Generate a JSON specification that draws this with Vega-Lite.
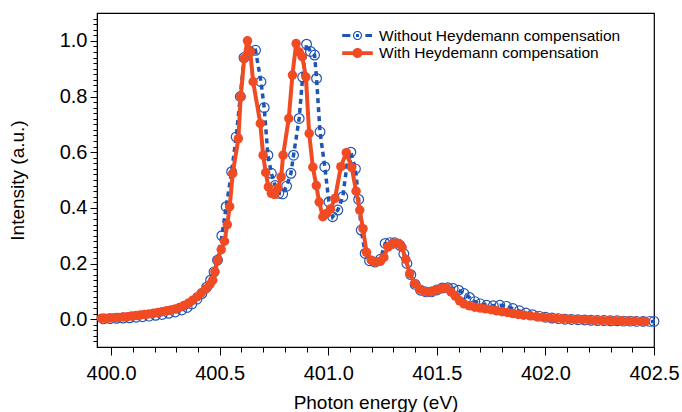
{
  "$schema": "https://vega.github.io/schema/vega-lite/v6.json",
  "width": 557,
  "height": 334,
  "autosize": {"type": "none"},
  "padding": {"left": 97, "top": 13, "right": 28, "bottom": 65},
  "background": "white",
  "config": {
    "view": {"stroke": "black", "strokeWidth": 1.2},
    "font": "Liberation Sans",
    "axis": {"grid": false, "domainColor": "black", "tickColor": "black", "labelColor": "black", "titleColor": "black", "labelFont": "Liberation Sans", "titleFont": "Liberation Sans", "titleFontWeight": "normal", "labelOverlap": false, "labelFlush": false}
  },
  "datasets": {
    "without": [
      {"energy":399.965,"intensity":0.001},{"energy":399.995,"intensity":0.002},{"energy":400.025,"intensity":0.003},{"energy":400.055,"intensity":0.004},{"energy":400.085,"intensity":0.005},{"energy":400.115,"intensity":0.007},{"energy":400.145,"intensity":0.009},{"energy":400.175,"intensity":0.011},{"energy":400.205,"intensity":0.014},{"energy":400.235,"intensity":0.017},{"energy":400.265,"intensity":0.021},{"energy":400.295,"intensity":0.026},{"energy":400.325,"intensity":0.033},{"energy":400.350,"intensity":0.042},{"energy":400.372,"intensity":0.055},{"energy":400.395,"intensity":0.072},{"energy":400.418,"intensity":0.092},{"energy":400.440,"intensity":0.115},{"energy":400.458,"intensity":0.140},{"energy":400.474,"intensity":0.170},{"energy":400.490,"intensity":0.212},{"energy":400.510,"intensity":0.300},{"energy":400.530,"intensity":0.404},{"energy":400.555,"intensity":0.530},{"energy":400.576,"intensity":0.655},{"energy":400.595,"intensity":0.800},{"energy":400.612,"intensity":0.940},{"energy":400.638,"intensity":0.962},{"energy":400.665,"intensity":0.966},{"energy":400.690,"intensity":0.853},{"energy":400.705,"intensity":0.760},{"energy":400.722,"intensity":0.589},{"energy":400.738,"intensity":0.524},{"energy":400.755,"intensity":0.480},{"energy":400.772,"intensity":0.452},{"energy":400.790,"intensity":0.450},{"energy":400.808,"intensity":0.478},{"energy":400.828,"intensity":0.524},{"energy":400.840,"intensity":0.589},{"energy":400.866,"intensity":0.721},{"energy":400.882,"intensity":0.870},{"energy":400.900,"intensity":0.988},{"energy":400.918,"intensity":0.962},{"energy":400.937,"intensity":0.949},{"energy":400.946,"intensity":0.865},{"energy":400.962,"intensity":0.673},{"energy":400.984,"intensity":0.547},{"energy":401.003,"intensity":0.421},{"energy":401.020,"intensity":0.368},{"energy":401.044,"intensity":0.392},{"energy":401.067,"intensity":0.440},{"energy":401.087,"intensity":0.560},{"energy":401.104,"intensity":0.600},{"energy":401.125,"intensity":0.540},{"energy":401.140,"intensity":0.430},{"energy":401.152,"intensity":0.320},{"energy":401.170,"intensity":0.236},{"energy":401.190,"intensity":0.210},{"energy":401.215,"intensity":0.205},{"energy":401.240,"intensity":0.215},{"energy":401.262,"intensity":0.272},{"energy":401.285,"intensity":0.275},{"energy":401.305,"intensity":0.275},{"energy":401.330,"intensity":0.265},{"energy":401.348,"intensity":0.235},{"energy":401.362,"intensity":0.200},{"energy":401.380,"intensity":0.160},{"energy":401.400,"intensity":0.125},{"energy":401.425,"intensity":0.104},{"energy":401.450,"intensity":0.098},{"energy":401.475,"intensity":0.098},{"energy":401.500,"intensity":0.105},{"energy":401.525,"intensity":0.112},{"energy":401.550,"intensity":0.113},{"energy":401.575,"intensity":0.110},{"energy":401.600,"intensity":0.104},{"energy":401.625,"intensity":0.092},{"energy":401.650,"intensity":0.078},{"energy":401.675,"intensity":0.063},{"energy":401.700,"intensity":0.055},{"energy":401.730,"intensity":0.050},{"energy":401.760,"intensity":0.048},{"energy":401.790,"intensity":0.050},{"energy":401.820,"intensity":0.046},{"energy":401.850,"intensity":0.038},{"energy":401.880,"intensity":0.030},{"energy":401.910,"intensity":0.022},{"energy":401.940,"intensity":0.016},{"energy":401.970,"intensity":0.011},{"energy":402.000,"intensity":0.007},{"energy":402.030,"intensity":0.004},{"energy":402.060,"intensity":0.002},{"energy":402.090,"intensity":0.000},{"energy":402.120,"intensity":-0.001},{"energy":402.150,"intensity":-0.002},{"energy":402.180,"intensity":-0.003},{"energy":402.210,"intensity":-0.004},{"energy":402.240,"intensity":-0.005},{"energy":402.270,"intensity":-0.005},{"energy":402.300,"intensity":-0.006},{"energy":402.330,"intensity":-0.006},{"energy":402.360,"intensity":-0.007},{"energy":402.390,"intensity":-0.007},{"energy":402.420,"intensity":-0.008},{"energy":402.450,"intensity":-0.008},{"energy":402.480,"intensity":-0.008},{"energy":402.500,"intensity":-0.008}
    ],
    "with": [
      {"energy":399.955,"intensity":0.003},{"energy":399.975,"intensity":0.003},{"energy":399.995,"intensity":0.004},{"energy":400.015,"intensity":0.005},{"energy":400.035,"intensity":0.006},{"energy":400.055,"intensity":0.008},{"energy":400.075,"intensity":0.009},{"energy":400.095,"intensity":0.011},{"energy":400.115,"intensity":0.013},{"energy":400.135,"intensity":0.015},{"energy":400.155,"intensity":0.017},{"energy":400.175,"intensity":0.019},{"energy":400.195,"intensity":0.021},{"energy":400.215,"intensity":0.024},{"energy":400.235,"intensity":0.027},{"energy":400.255,"intensity":0.030},{"energy":400.275,"intensity":0.033},{"energy":400.295,"intensity":0.037},{"energy":400.315,"intensity":0.042},{"energy":400.335,"intensity":0.049},{"energy":400.355,"intensity":0.057},{"energy":400.375,"intensity":0.068},{"energy":400.395,"intensity":0.080},{"energy":400.415,"intensity":0.094},{"energy":400.435,"intensity":0.108},{"energy":400.455,"intensity":0.125},{"energy":400.468,"intensity":0.140},{"energy":400.478,"intensity":0.170},{"energy":400.491,"intensity":0.212},{"energy":400.507,"intensity":0.250},{"energy":400.522,"intensity":0.280},{"energy":400.535,"intensity":0.340},{"energy":400.546,"intensity":0.404},{"energy":400.560,"intensity":0.524},{"energy":400.586,"intensity":0.649},{"energy":400.597,"intensity":0.800},{"energy":400.613,"intensity":0.937},{"energy":400.628,"intensity":1.000},{"energy":400.641,"intensity":0.960},{"energy":400.654,"intensity":0.853},{"energy":400.687,"intensity":0.703},{"energy":400.700,"intensity":0.589},{"energy":400.712,"intensity":0.527},{"energy":400.724,"intensity":0.475},{"energy":400.738,"intensity":0.452},{"energy":400.752,"intensity":0.448},{"energy":400.768,"intensity":0.470},{"energy":400.783,"intensity":0.511},{"energy":400.792,"intensity":0.589},{"energy":400.818,"intensity":0.721},{"energy":400.835,"intensity":0.877},{"energy":400.852,"intensity":0.990},{"energy":400.866,"intensity":0.960},{"energy":400.880,"intensity":0.943},{"energy":400.897,"intensity":0.870},{"energy":400.912,"intensity":0.667},{"energy":400.929,"intensity":0.546},{"energy":400.945,"intensity":0.480},{"energy":400.958,"intensity":0.421},{"energy":400.975,"intensity":0.368},{"energy":400.992,"intensity":0.380},{"energy":401.010,"intensity":0.396},{"energy":401.031,"intensity":0.434},{"energy":401.058,"intensity":0.548},{"energy":401.083,"intensity":0.598},{"energy":401.108,"intensity":0.545},{"energy":401.128,"intensity":0.460},{"energy":401.145,"intensity":0.392},{"energy":401.160,"intensity":0.325},{"energy":401.176,"intensity":0.240},{"energy":401.198,"intensity":0.212},{"energy":401.220,"intensity":0.205},{"energy":401.240,"intensity":0.208},{"energy":401.256,"intensity":0.222},{"energy":401.275,"intensity":0.260},{"energy":401.292,"intensity":0.268},{"energy":401.308,"intensity":0.274},{"energy":401.325,"intensity":0.272},{"energy":401.340,"intensity":0.258},{"energy":401.357,"intensity":0.215},{"energy":401.375,"intensity":0.164},{"energy":401.398,"intensity":0.128},{"energy":401.420,"intensity":0.108},{"energy":401.440,"intensity":0.100},{"energy":401.460,"intensity":0.098},{"energy":401.480,"intensity":0.100},{"energy":401.500,"intensity":0.106},{"energy":401.520,"intensity":0.110},{"energy":401.544,"intensity":0.112},{"energy":401.565,"intensity":0.098},{"energy":401.585,"intensity":0.083},{"energy":401.605,"intensity":0.066},{"energy":401.625,"intensity":0.055},{"energy":401.650,"intensity":0.048},{"energy":401.675,"intensity":0.043},{"energy":401.700,"intensity":0.040},{"energy":401.725,"intensity":0.037},{"energy":401.750,"intensity":0.034},{"energy":401.775,"intensity":0.030},{"energy":401.800,"intensity":0.027},{"energy":401.825,"intensity":0.024},{"energy":401.850,"intensity":0.020},{"energy":401.875,"intensity":0.017},{"energy":401.900,"intensity":0.014},{"energy":401.930,"intensity":0.012},{"energy":401.960,"intensity":0.009},{"energy":401.990,"intensity":0.007},{"energy":402.020,"intensity":0.005},{"energy":402.050,"intensity":0.003},{"energy":402.080,"intensity":0.002},{"energy":402.110,"intensity":0.000},{"energy":402.140,"intensity":-0.001},{"energy":402.170,"intensity":-0.002},{"energy":402.200,"intensity":-0.003},{"energy":402.230,"intensity":-0.004},{"energy":402.260,"intensity":-0.005},{"energy":402.290,"intensity":-0.005},{"energy":402.320,"intensity":-0.006},{"energy":402.350,"intensity":-0.006},{"energy":402.380,"intensity":-0.007},{"energy":402.410,"intensity":-0.007},{"energy":402.440,"intensity":-0.008},{"energy":402.460,"intensity":-0.008}
    ]
  },
  "layer": [
    {
      "data": {"name": "without"},
      "mark": {"type": "line", "strokeWidth": 3.5, "strokeDash": [5, 4]},
      "encoding": {
        "x": {"field": "energy", "type": "quantitative", "scale": {"domain": [399.935, 402.5], "nice": false, "zero": false},
          "axis": {"orient": "bottom", "values": [400, 400.5, 401, 401.5, 402, 402.5], "format": ".1f", "title": "Photon energy (eV)", "tickSize": 8, "labelFontSize": 20, "labelPadding": 8, "titleFontSize": 19, "titlePadding": 10}},
        "y": {"field": "intensity", "type": "quantitative", "scale": {"domain": [-0.1, 1.1], "nice": false, "zero": false},
          "axis": {"orient": "left", "values": [0, 0.2, 0.4, 0.6, 0.8, 1.0], "format": ".1f", "title": "Intensity (a.u.)", "tickSize": 7, "labelFontSize": 20, "labelPadding": 3, "titleFontSize": 19, "titlePadding": 32}},
        "color": {"datum": "Without Heydemann compensation", "type": "nominal",
          "scale": {"domain": ["Without Heydemann compensation", "With Heydemann compensation"], "range": ["#1f55b3", "#f04b23"]},
          "legend": {
            "title": null, "orient": "none", "legendX": 252, "legendY": 14, "padding": 0,
            "symbolSize": 289, "labelOffset": 13, "rowPadding": 0.6,
            "labelFont": "Liberation Sans", "labelFontSize": 15.5, "labelColor": "black", "labelLimit": 400,
            "encode": {"symbols": {"update": {
              "shape": [{"test": "datum.value === 'Without Heydemann compensation'", "value": "M-1.8,-0.19H-0.84V0.19H-1.8Z M0.93,-0.19H1.71V0.19H0.93Z M-0.18,-0.18H0.18V0.18H-0.18Z M0.54,0A0.54,0.54,0,1,1,-0.54,0A0.54,0.54,0,1,1,0.54,0Z M0.4,0A0.4,0.4,0,1,0,-0.4,0A0.4,0.4,0,1,0,0.4,0Z"}, {"value": "M-1.8,-0.21H1.8V0.21H-1.8Z M0.59,0A0.59,0.59,0,1,1,-0.59,0A0.59,0.59,0,1,1,0.59,0Z"}],
              "fill": [{"test": "datum.value === 'Without Heydemann compensation'", "value": "#1f55b3"}, {"value": "#f04b23"}],
              "stroke": {"value": "transparent"},
              "strokeWidth": {"value": 0},
              "opacity": {"value": 1}
            }}}
          }}
      }
    },
    {
      "data": {"name": "without"},
      "mark": {"type": "point", "filled": false, "size": 95, "strokeWidth": 1.2, "opacity": 1},
      "encoding": {
        "x": {"field": "energy", "type": "quantitative", "axis": null},
        "y": {"field": "intensity", "type": "quantitative", "axis": null},
        "color": {"datum": "Without Heydemann compensation", "type": "nominal"}
      }
    },
    {
      "data": {"name": "with"},
      "mark": {"type": "line", "strokeWidth": 4},
      "encoding": {
        "x": {"field": "energy", "type": "quantitative", "axis": null},
        "y": {"field": "intensity", "type": "quantitative", "axis": null},
        "color": {"datum": "With Heydemann compensation", "type": "nominal"}
      }
    },
    {
      "data": {"name": "with"},
      "mark": {"type": "point", "filled": true, "size": 90, "opacity": 1},
      "encoding": {
        "x": {"field": "energy", "type": "quantitative",
          "axis": {"orient": "bottom", "values": [400.1, 400.2, 400.3, 400.4, 400.6, 400.7, 400.8, 400.9, 401.1, 401.2, 401.3, 401.4, 401.6, 401.7, 401.8, 401.9, 402.1, 402.2, 402.3, 402.4], "labels": false, "title": null, "tickSize": 5, "domain": false}},
        "y": {"field": "intensity", "type": "quantitative",
          "axis": {"orient": "left", "values": [-0.08, -0.06, -0.04, -0.02, 0.02, 0.04, 0.06, 0.08, 0.1, 0.12, 0.14, 0.16, 0.18, 0.22, 0.24, 0.26, 0.28, 0.3, 0.32, 0.34, 0.36, 0.38, 0.42, 0.44, 0.46, 0.48, 0.5, 0.52, 0.54, 0.56, 0.58, 0.62, 0.64, 0.66, 0.68, 0.7, 0.72, 0.74, 0.76, 0.78, 0.82, 0.84, 0.86, 0.88, 0.9, 0.92, 0.94, 0.96, 0.98, 1.02, 1.04, 1.06, 1.08], "labels": false, "title": null, "tickSize": 4, "domain": false}},
        "color": {"datum": "With Heydemann compensation", "type": "nominal"}
      }
    }
  ],
  "resolve": {"axis": {"x": "independent", "y": "independent"}}
}
